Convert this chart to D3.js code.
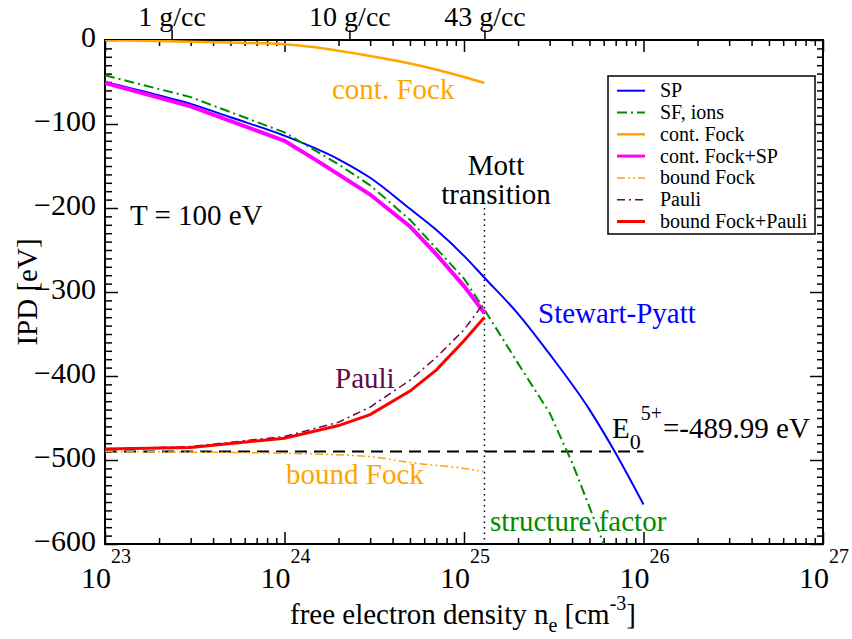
<!DOCTYPE html>
<html>
<head>
<meta charset="utf-8">
<script src="https://cdn.jsdelivr.net/npm/d3@7"></script>
<style>
  body { margin: 0; background: #fff; }
  svg text { font-family: "Liberation Serif", "Times New Roman", Times, "DejaVu Serif", serif !important; }
</style>
</head>
<body>
<div id="chart"></div>
<script>
/* IPD vs free electron density */

// Series (density in cm^-3, IPD in eV)
const spN = [1e23, 2e23, 3e23, 5e23, 1e24, 2e24, 3e24, 5e24, 7e24, 1e25, 1.3e25, 2e25, 3e25, 5e25, 7e25, 1e26];
const spV = [-50, -66, -76, -92, -114, -142, -164, -201, -226, -257, -283, -326, -374, -440, -492, -553];

const sfN = [1e23, 3e23, 1e24, 2e24, 3e24, 5e24, 1e25, 1.3e25, 2e25, 3e25, 4e25, 5e25, 6e25];
const sfV = [-42, -68, -110, -148, -173, -214, -284, -321, -385, -444, -503, -556, -600];

const contFockN = [1e23, 3e23, 1e24, 3e24, 5e24, 1e25, 1.3e25];
const contFockV = [0, -2, -5, -19, -28, -44, -51];

const fockSpN = [1e23, 3e23, 1e24, 1.5e24, 3e24, 5e24, 7e24, 1e25, 1.3e25];
const fockSpV = [-51, -79, -120, -143, -184, -222, -255, -293, -325];

const boundFockN = [1e23, 1e24, 3e24, 5e24, 1e25, 1.3e25];
const boundFockV = [-490, -492, -496, -503, -510, -514];

const pauliN = [1e23, 3e23, 1e24, 2e24, 3e24, 5e24, 7e24, 1e25, 1.3e25];
const pauliV = [-487, -484, -472, -455, -437, -405, -378, -345, -312];

const boundPauliN = [1e23, 3e23, 1e24, 2e24, 3e24, 5e24, 7e24, 1e25, 1.3e25];
const boundPauliV = [-487, -485, -474, -459, -446, -418, -393, -358, -330];

const e0N = [1e23, 1e26];          // E0 level line
const e0V = [-489.99, -489.99];
const mottN = 1.3e25;              // Mott transition
const mottV = [-200, -600];

const densityTicks = [2.35e23, 2.3e24, 1.3e25];   // top axis, mass density
const densityLabels = ["1 g/cc", "10 g/cc", "43 g/cc"];
const yTicks = [0, -100, -200, -300, -400, -500, -600];
const xDecades = [23, 24, 25, 26, 27];

const width = 852, height = 639,
    margin = ({ top: 40, right: 29, bottom: 95, left: 105 });
const serif = '"Liberation Serif", "Times New Roman", Times, "DejaVu Serif", serif';

const svg = d3.select("#chart")
    .append("svg")
    .attr("width", width)
    .attr("height", height)
    .attr("font-family", serif)
    .attr("viewBox", [0, 0, width, height]);

const x = d3.scaleLog()
    .domain([1e23, 1e27])
    .range([margin.left, width - margin.right]);

const y = d3.scaleLinear()
    .domain([-600, 0])
    .range([height - margin.bottom, margin.top]);

svg.append("clipPath").attr("id", "clip")
    .append("rect")
    .attr("x", margin.left).attr("y", margin.top)
    .attr("width", x.range()[1] - margin.left)
    .attr("height", y.range()[0] - margin.top);

// log minor ticks 2..9 in each decade
let minorX = [];
for (let e = 23; e < 27; e++) for (let m = 2; m < 10; m++) minorX.push(m * Math.pow(10, e));
const majorX = xDecades.map(e => Math.pow(10, e));
const minorY = d3.range(-600, 1, 10).filter(v => v % 100 !== 0);

function styleAxis(g) {
    g.attr("font-family", serif);
    g.select(".domain").remove();
    g.selectAll(".tick line").attr("stroke", "#000").attr("stroke-width", 1.5);
}

// bottom
svg.append("g").attr("transform", `translate(0,${y(-600)})`)
    .call(d3.axisBottom(x).tickValues(majorX).tickFormat("").tickSize(-12)).call(styleAxis);
svg.append("g").attr("transform", `translate(0,${y(-600)})`)
    .call(d3.axisBottom(x).tickValues(minorX).tickFormat("").tickSize(-6)).call(styleAxis);
// top (mirror)
svg.append("g").attr("transform", `translate(0,${y(0)})`)
    .call(d3.axisTop(x).tickValues(majorX).tickFormat("").tickSize(-12)).call(styleAxis);
svg.append("g").attr("transform", `translate(0,${y(0)})`)
    .call(d3.axisTop(x).tickValues(minorX).tickFormat("").tickSize(-6)).call(styleAxis);
// top density axis
svg.append("g").attr("transform", `translate(0,${y(0)})`)
    .call(d3.axisTop(x).tickValues(densityTicks).tickFormat((d, i) => densityLabels[i])
        .tickSize(10).tickPadding(6))
    .call(styleAxis)
    .call(g => g.selectAll("text").attr("font-size", 28).attr("fill", "#000").attr("dy", "0.08em"));
// left
svg.append("g").attr("transform", `translate(${margin.left},0)`)
    .call(d3.axisLeft(y).tickValues(yTicks).tickSize(-13).tickPadding(9))
    .call(styleAxis)
    .call(g => g.selectAll("text").attr("font-size", 30).attr("fill", "#000").attr("dy", "0.22em"));
svg.append("g").attr("transform", `translate(${margin.left},0)`)
    .call(d3.axisLeft(y).tickValues(minorY).tickFormat("").tickSize(-7)).call(styleAxis);
// right (mirror)
svg.append("g").attr("transform", `translate(${x.range()[1]},0)`)
    .call(d3.axisRight(y).tickValues(yTicks).tickFormat("").tickSize(-13)).call(styleAxis);
svg.append("g").attr("transform", `translate(${x.range()[1]},0)`)
    .call(d3.axisRight(y).tickValues(minorY).tickFormat("").tickSize(-6)).call(styleAxis);

// frame
svg.append("rect")
    .attr("x", margin.left).attr("y", margin.top)
    .attr("width", x.range()[1] - margin.left)
    .attr("height", y.range()[0] - margin.top)
    .attr("fill", "none").attr("stroke", "#000").attr("stroke-width", 2);

// x tick labels 10^n
const xl = svg.append("g");
for (let e of xDecades) {
    const t = xl.append("text")
        .attr("x", x(Math.pow(10, e)) + 1)
        .attr("y", y(-600) + 44)
        .attr("text-anchor", "middle")
        .attr("font-size", 30);
    t.append("tspan").text("10");
    t.append("tspan").attr("dy", -25).attr("font-size", 20).text(e);
}

// axis titles
const xt = svg.append("text")
    .attr("x", 463).attr("y", 624)
    .attr("text-anchor", "middle")
    .attr("font-size", 29);
xt.append("tspan").text("free electron density n");
xt.append("tspan").attr("dy", 8).attr("font-size", 20).text("e");
xt.append("tspan").attr("dy", -8).text(" [cm");
xt.append("tspan").attr("dy", -14).attr("font-size", 20).text("-3");
xt.append("tspan").attr("dy", 14).text("]");

svg.append("text")
    .attr("transform", `translate(37,${(y(0) + y(-600)) / 2}) rotate(-90)`)
    .attr("text-anchor", "middle")
    .attr("font-size", 29)
    .text("IPD [eV]");

// curves
const line = d3.line()
    .x(d => x(d[0]))
    .y(d => y(d[1]));
const smooth = d3.line()
    .curve(d3.curveMonotoneX)
    .x(d => x(d[0]))
    .y(d => y(d[1]));

const zip = (n, v) => n.map((d, i) => [d, v[i]]);

const series = [
    { name: "SP", n: spN, v: spV, color: "#0000ff", w: 2, dash: null, gen: smooth },
    { name: "SF, ions", n: sfN, v: sfV, color: "#008b00", w: 2, dash: "10,4,2,4", gen: line },
    { name: "cont. Fock", n: contFockN, v: contFockV, color: "#ffa500", w: 2.5, dash: null, gen: smooth },
    { name: "cont. Fock+SP", n: fockSpN, v: fockSpV, color: "#ff00ff", w: 4, dash: null, gen: line },
    { name: "bound Fock", n: boundFockN, v: boundFockV, color: "#ffa500", w: 1.5, dash: "8,3,2,3,2,3", gen: smooth },
    { name: "Pauli", n: pauliN, v: pauliV, color: "#670748", w: 1.5, dash: "8,4,2,4", gen: line },
    { name: "bound Fock+Pauli", n: boundPauliN, v: boundPauliV, color: "#ff0000", w: 3, dash: null, gen: line }
];

const plot = svg.append("g").attr("clip-path", "url(#clip)");

plot.append("path")   // E0 level
    .datum(zip(e0N, e0V))
    .attr("d", line)
    .attr("fill", "none")
    .attr("stroke", "#000")
    .attr("stroke-width", 2)
    .attr("stroke-dasharray", "12,7");

plot.append("path")   // Mott line
    .datum([[mottN, mottV[0]], [mottN, mottV[1]]])
    .attr("d", line)
    .attr("fill", "none")
    .attr("stroke", "#000")
    .attr("stroke-width", 1.5)
    .attr("stroke-dasharray", "1.5,4");

for (let s of series) {
    plot.append("path")
        .datum(zip(s.n, s.v))
        .attr("d", s.gen)
        .attr("fill", "none")
        .attr("stroke", s.color)
        .attr("stroke-width", s.w)
        .attr("stroke-dasharray", s.dash);
}

// annotations
const note = (tx, ty, str, color) => svg.append("text")
    .attr("x", tx).attr("y", ty)
    .attr("font-size", 29)
    .attr("fill", color)
    .text(str);

note(332, 99, "cont. Fock", "#ffa500");
note(130, 225, "T = 100 eV", "#000");
note(496, 175, "Mott", "#000").attr("text-anchor", "middle");
note(496, 204, "transition", "#000").attr("text-anchor", "middle");
note(538, 323, "Stewart-Pyatt", "#0000ff");
note(335, 388, "Pauli", "#670748");
note(286, 484, "bound Fock", "#ffa500");
note(490, 531, "structure factor", "#008b00");

const e0 = svg.append("text").attr("x", 612).attr("y", 438).attr("font-size", 29);
e0.append("tspan").text("E");
e0.append("tspan").attr("dy", 11).attr("font-size", 22).text("0");
e0.append("tspan").attr("dy", -29).attr("font-size", 20).text("5+");
e0.append("tspan").attr("x", 663).attr("dy", 18).text("=-489.99 eV");

// legend
const lg = svg.append("g");
lg.append("rect")
    .attr("x", 608).attr("y", 76)
    .attr("width", 207).attr("height", 158)
    .attr("fill", "#fff")
    .attr("stroke", "#000")
    .attr("stroke-width", 1.5);

series.forEach((s, i) => {
    const ry = 90.7 + i * 21.8;
    lg.append("line")
        .attr("x1", 617).attr("x2", 645)
        .attr("y1", ry).attr("y2", ry)
        .attr("stroke", s.color)
        .attr("stroke-width", Math.min(s.w, 3))
        .attr("stroke-dasharray", s.dash);
    lg.append("text")
        .attr("x", 660).attr("y", ry + 6.5)
        .attr("font-size", 20)
        .text(s.name);
});
</script>
</body>
</html>
